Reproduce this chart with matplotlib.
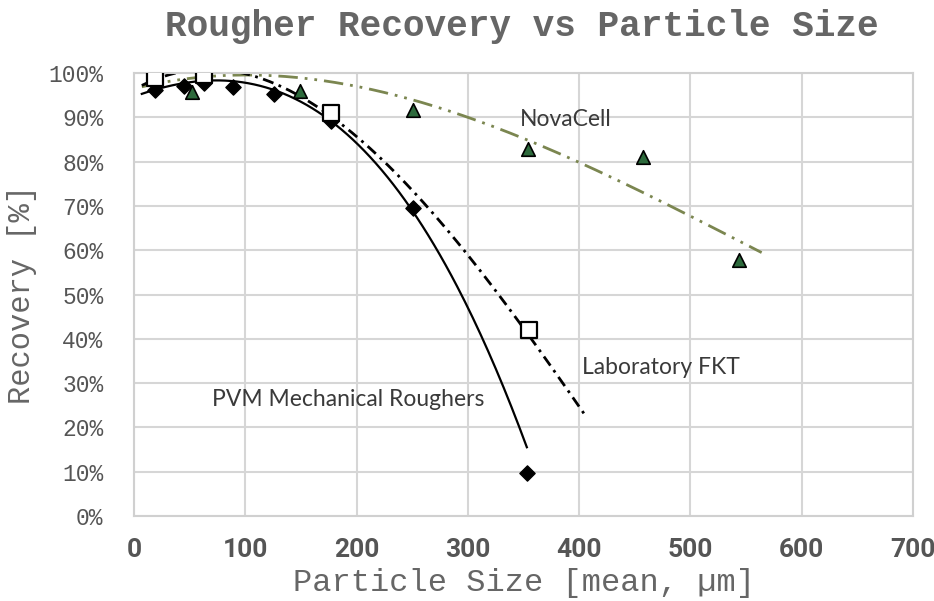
import matplotlib.pyplot as plt
import numpy as np

pvm_size = [19, 45, 63, 89, 126, 177, 251, 353]
pvm_rec = [96.2, 97.0, 97.7, 96.8, 95.2, 89.2, 69.5, 9.7]

lab_size = [19, 63, 177, 355]
lab_rec = [98.9, 99.5, 91.0, 42.0]

nova_size = [52, 149, 251, 354, 457, 544]
nova_rec = [95.7, 96.0, 91.6, 82.8, 81.0, 57.8]

# points (polynomial trends)
pvm_trend_x = [7, 86, 173, 218, 248, 312, 329, 353]
pvm_trend_y = [95.5, 97.7, 90.0, 80.0, 70.0, 40.0, 30.0, 16.5]

lab_trend_x = [7, 80, 182, 269, 293, 353, 385, 407]
lab_trend_y = [97.7, 99.5, 90.0, 70.0, 60.0, 40.0, 30.0, 23.0]

nova_trend_x = [7, 100, 200, 300, 400, 500, 564]
nova_trend_y = [97.0, 99.2, 97.5, 89.8, 79.7, 67.9, 59.4]

x_ticks = [0, 100, 200, 300, 400, 500, 600, 700]
y_ticks = [0, 10, 20, 30, 40, 50, 60, 70, 80, 90, 100]

fig = plt.figure(figsize=(9.34, 6.01), dpi=100)
ax = fig.add_axes([0.1435, 0.1414, 0.834, 0.737])


def trend(xs, ys, deg=3):
    coef = np.polyfit(xs, ys, deg)
    xx = np.linspace(min(xs), max(xs), 200)
    return xx, np.polyval(coef, xx)


nova_col = '#7b8650'
xx, yy = trend(nova_trend_x, nova_trend_y)
ax.plot(xx, yy, color=nova_col, lw=2, dashes=(7, 2.5, 1, 2.5, 1, 2.5), zorder=2)
xx, yy = trend(lab_trend_x, lab_trend_y)
ax.plot(xx, yy, color='black', lw=2, dashes=(4, 2, 1, 2), zorder=2)
xx, yy = trend(pvm_trend_x, pvm_trend_y)
ax.plot(xx, yy, color='black', lw=1.6, zorder=2)

ax.scatter(pvm_size, pvm_rec, marker='D', s=60, color='black', zorder=4)
ax.scatter(lab_size, lab_rec, marker='s', s=130, facecolor='white',
           edgecolor='black', linewidths=1.6, zorder=5)
ax.scatter(nova_size, nova_rec, marker='^', s=95, facecolor='#2d6a3c',
           edgecolor='black', linewidths=1.2, zorder=4)

ann_font = dict(family='Lato', fontsize=16.5, color='#3a3a3a', va='center')
ax.text(347, 89.6, 'NovaCell', **ann_font)
ax.text(402.5, 33.6, 'Laboratory FKT', **ann_font)
ax.text(70, 26.2, 'PVM Mechanical Roughers', **ann_font)

ax.set_xlim(0, 700)
ax.set_ylim(0, 100)
ax.set_xticks(x_ticks)
ax.set_yticks(y_ticks)
ax.set_xticklabels([str(v) for v in x_ticks], family='Roboto',
                   fontweight='bold', fontsize=19, color='#555555')
ax.set_yticklabels([f'{v}%' for v in y_ticks], family='Liberation Mono',
                   fontsize=16.5, color='#555555')
ax.tick_params(length=0)
ax.tick_params(axis='y', pad=22)
ax.tick_params(axis='x', pad=16)
ax.grid(True, color='#d6d6d6', lw=1.5)
ax.set_axisbelow(True)
for s in ax.spines.values():
    s.set_color('#d0d0d0')
    s.set_linewidth(1.5)

ax.set_xlabel('Particle Size [mean, µm]', family='Liberation Mono',
              fontsize=23, color='#666666', labelpad=4)
ax.set_ylabel('Recovery [%]', family='Liberation Mono',
              fontsize=22, color='#666666', labelpad=8)
fig.suptitle('Rougher Recovery vs Particle Size', family='Liberation Mono',
             fontweight='bold', fontsize=26, color='#666666', x=0.559, y=0.985)

fig.savefig('out.png', dpi=100)
